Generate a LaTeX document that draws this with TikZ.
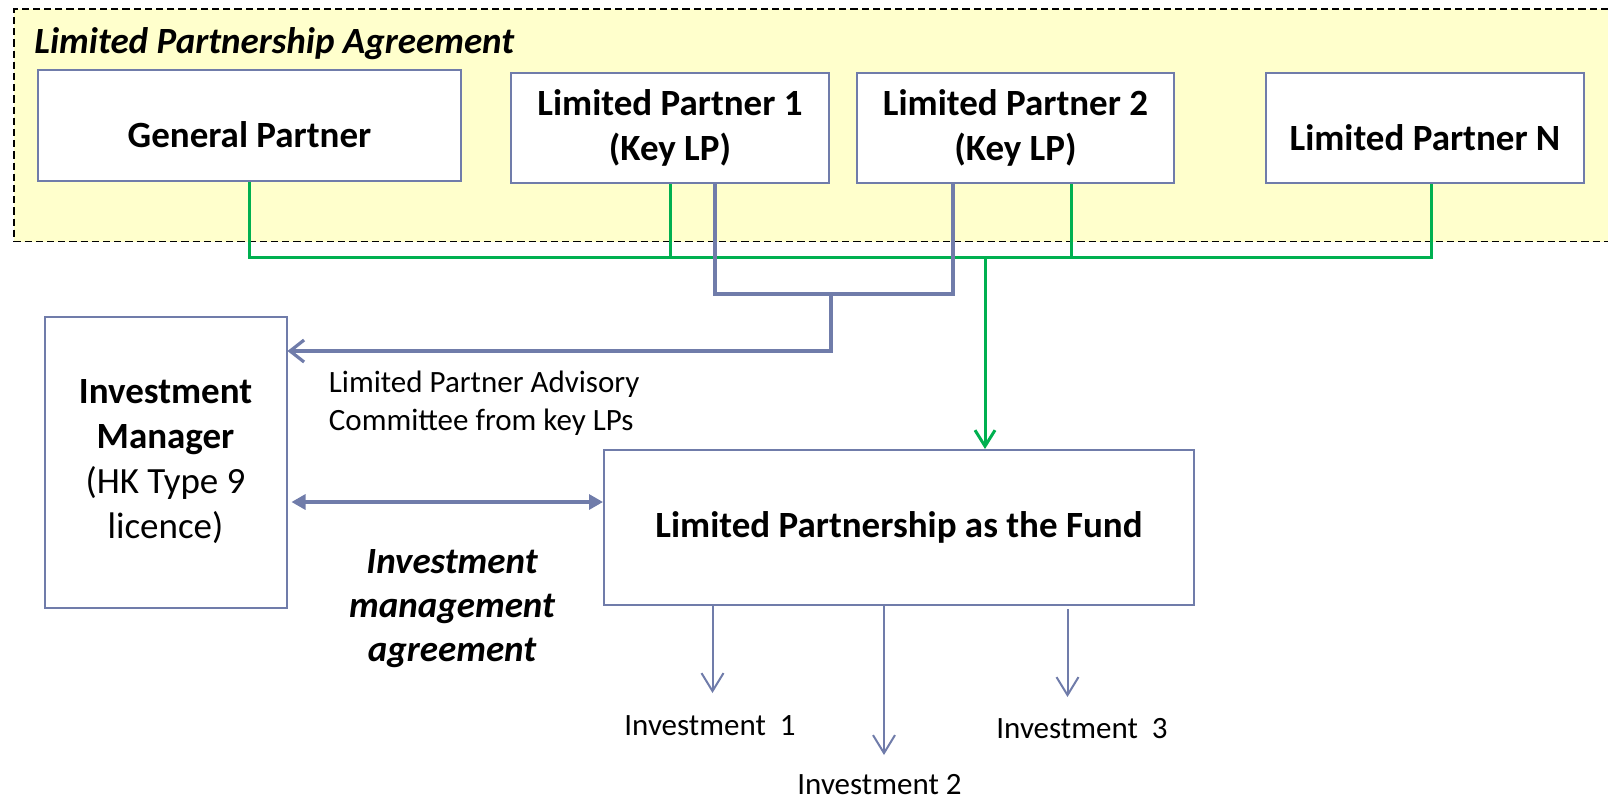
\documentclass[tikz,border=0pt]{standalone}
\usepackage{fontspec}
\setmainfont{Carlito}
\usetikzlibrary{arrows.meta}

\definecolor{lpblue}{RGB}{112,124,170}
\definecolor{lpgreen}{RGB}{0,176,80}
\definecolor{lpyellow}{RGB}{255,255,204}

\begin{document}
\begin{tikzpicture}
  [x=0.5pt, y=-0.5pt,
   big/.style={font=\fontsize{18.5pt}{22.5pt}\selectfont},
   small/.style={font=\fontsize{15.5pt}{18.8pt}\selectfont},
   party/.style={draw=lpblue, line width=1pt, fill=white, align=center, inner sep=0pt,
     font=\fontsize{18.5pt}{22.5pt}\selectfont\bfseries},
   greenlink/.style={draw=lpgreen, line width=1.5pt},
   bluelink/.style={draw=lpblue, line width=1.6pt},
   thinlink/.style={draw=lpblue, line width=1pt, -{Straight Barb[length=9pt, width=11pt]}}]
	\useasboundingbox (0,0) rectangle (1608,800);

	\fill [lpyellow] (14,9.3) rectangle (1608,241.5);
	\draw [line width=0.9pt, dash pattern=on 3.6pt off 2pt] (1608,9.3) -- (14,9.3) -- (14,241.5) -- (1608,241.5);
	\node [name=lpa, big, font=\fontsize{18.5pt}{22.5pt}\selectfont\bfseries\itshape, anchor=base west, inner sep=0pt]
		at (34,53) {Limited Partnership Agreement};

	\node [name=gp, party, minimum width=211.5pt, minimum height=55.5pt, text height=22pt, text depth=0pt]
		at (249.5,125.5) {General Partner};
	\node [name=lp1, party, minimum width=159pt, minimum height=55pt] at (670,128) {Limited Partner 1\\(Key LP)};
	\node [name=lp2, party, minimum width=158.5pt, minimum height=55pt] at (1015.5,128) {Limited Partner 2\\(Key LP)};
	\node [name=lpn, party, minimum width=159pt, minimum height=55pt, text height=22pt, text depth=0pt]
		at (1425,128) {Limited Partner N};

	\node [name=im, party, minimum width=121pt, minimum height=145.5pt] at (165.5,462)
		{Investment\\Manager\\\mdseries(HK Type 9\\\mdseries licence)};
	\node [name=fund, party, minimum width=295pt, minimum height=77.5pt] at (899,527.5)
		{Limited Partnership as the Fund};

	\node [name=lpac, small, anchor=north west, align=left, inner sep=0pt] at (328.5,371)
		{Limited Partner Advisory\\Committee from key LPs};
	\node [name=ima, big, font=\fontsize{18.5pt}{22pt}\selectfont\bfseries\itshape, anchor=north, align=center, inner sep=0pt]
		at (452,549) {Investment\\management\\agreement};

	\coordinate (bus) at (985,257);
	\coordinate (kbus) at (831,294);
	\coordinate (advice) at (831,351);
	\coordinate (imaline) at (450,502);

	\draw [greenlink] (gp.south) |- ([xshift=27.75pt]lp2.south |- bus) -- ([xshift=27.75pt]lp2.south);
	\draw [greenlink] (lp1.south) -- (lp1.south |- bus);
	\draw [greenlink] ([xshift=3pt]lpn.south) |- ([xshift=27.75pt]lp2.south |- bus);
	\draw [greenlink, -{Straight Barb[length=8pt, width=10pt]}] (bus) -- (bus |- fund.north);

	\draw [bluelink] ([xshift=22.5pt]lp1.south) |- ([xshift=-31.25pt]lp2.south |- kbus) -- ([xshift=-31.25pt]lp2.south);
	\draw [bluelink, -{Straight Barb[length=7pt, width=11pt]}] (kbus) -- (advice) -- (advice -| im.east);
	\draw [bluelink, {Triangle[length=7pt, width=7.5pt]}-{Triangle[length=7pt, width=7.5pt]}, shorten <=2pt]
		(imaline -| im.east) -- (imaline -| fund.west);

	\coordinate (t1) at (712.5,693);
	\coordinate (t2) at (884,755);
	\coordinate (t3) at (1067.5,697);
	\draw [thinlink] (fund.south -| t1) -- (t1);
	\draw [thinlink] (fund.south -| t2) -- (t2);
	\draw [thinlink, shorten <=1.5pt] (fund.south -| t3) -- (t3);

	\node [name=inv1, small, anchor=base, inner sep=0pt] at (710,735) {Investment~~1};
	\node [name=inv2, small, anchor=base, inner sep=0pt] at (879.5,794) {Investment 2};
	\node [name=inv3, small, anchor=base, inner sep=0pt] at (1082,738) {Investment~~3};
\end{tikzpicture}
\end{document}
